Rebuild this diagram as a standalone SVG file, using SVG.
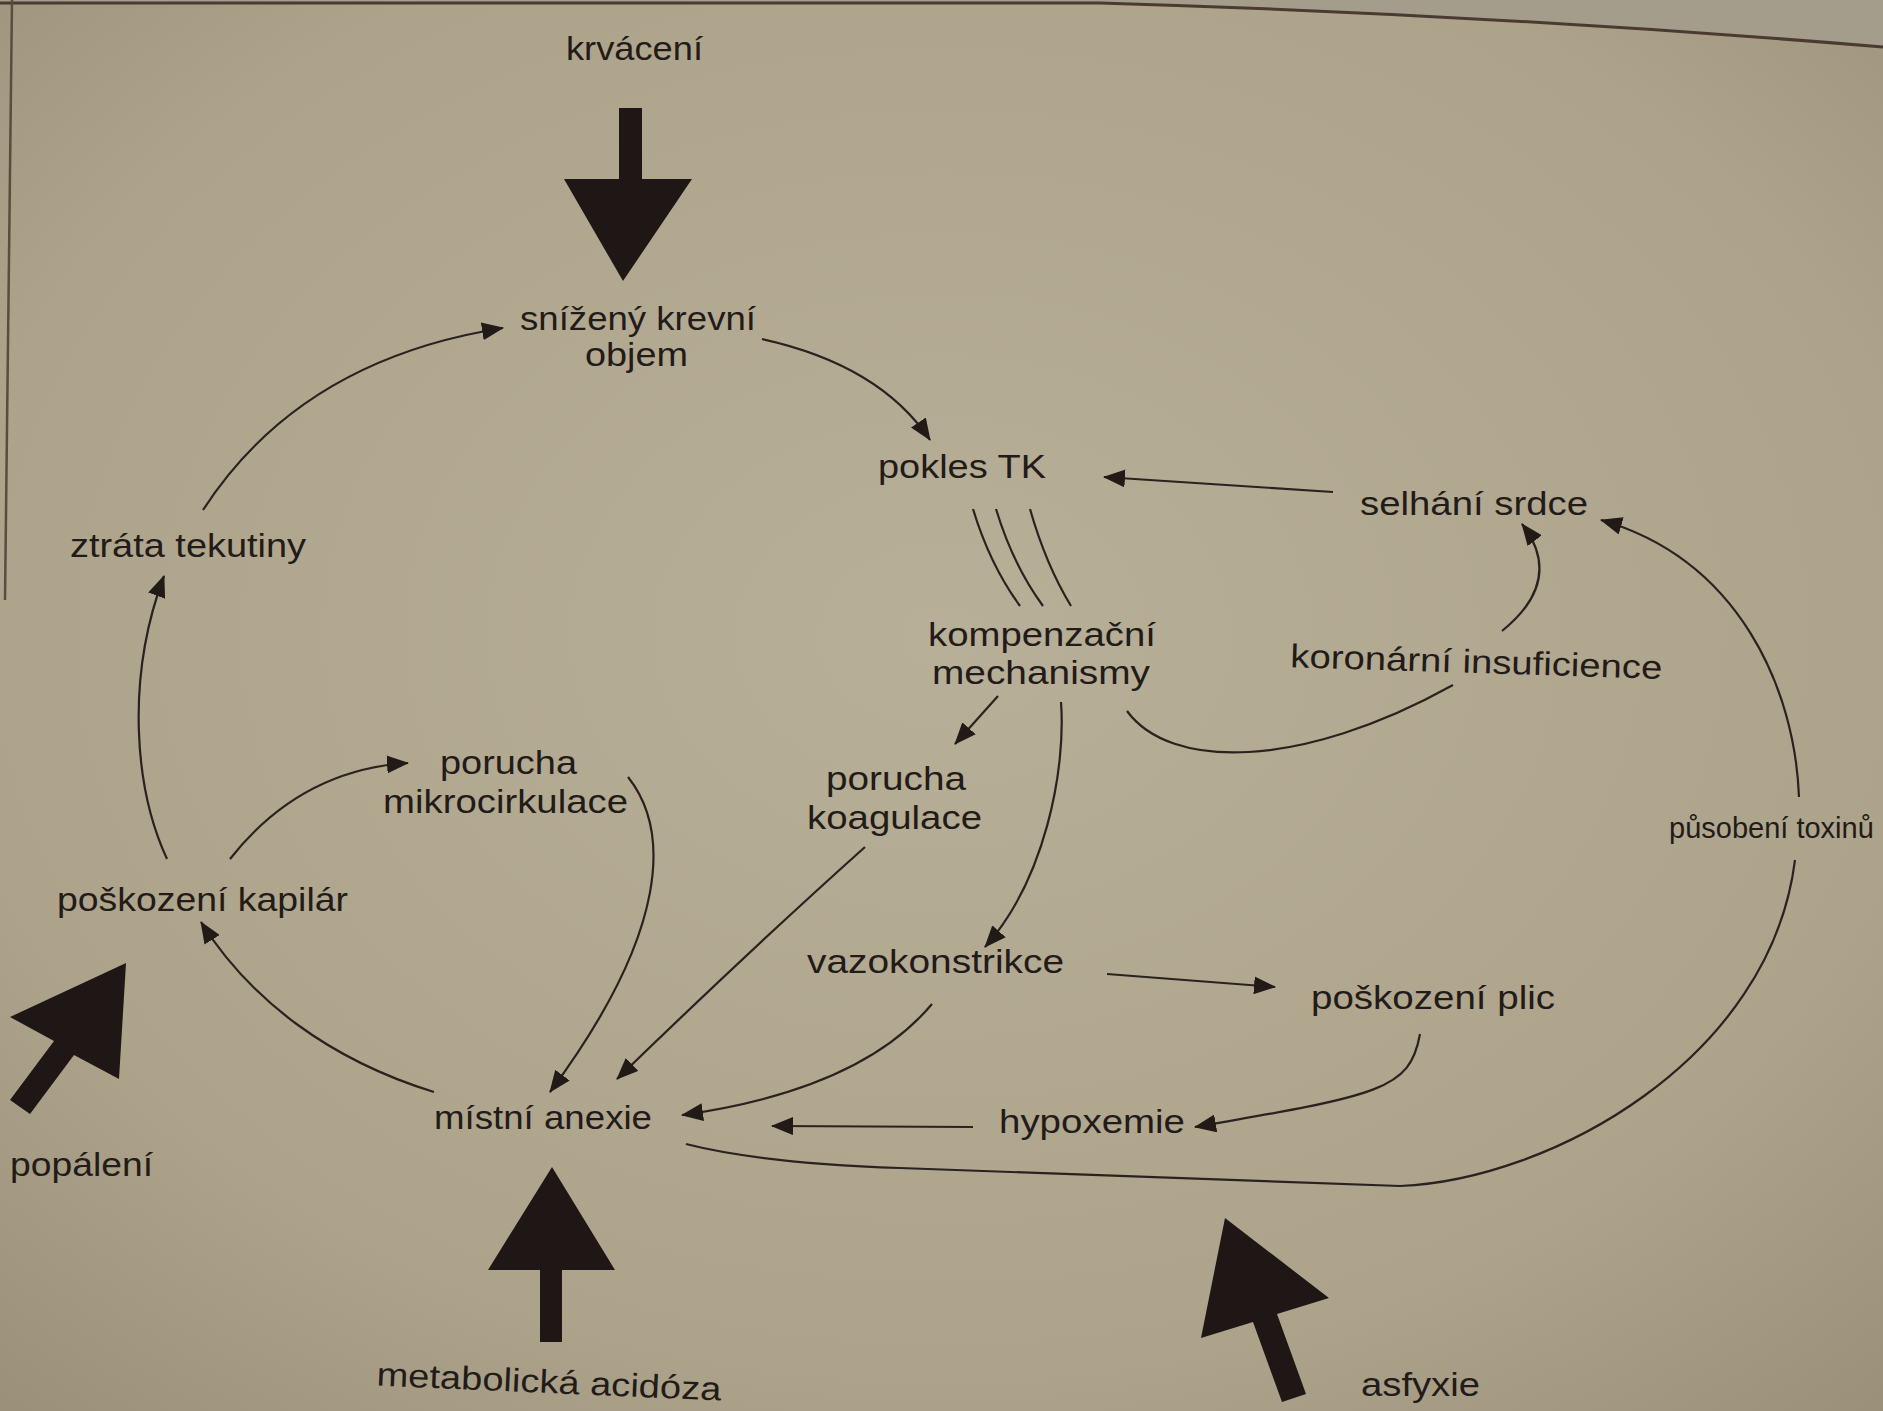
<svg xmlns="http://www.w3.org/2000/svg" width="1883" height="1411" viewBox="0 0 1883 1411">
<defs>
<radialGradient id="bg" cx="0.5" cy="0.45" r="0.75">
<stop offset="0" stop-color="#b8af98"/>
<stop offset="0.7" stop-color="#ada38b"/>
<stop offset="1" stop-color="#9a907a"/>
</radialGradient>
<marker id="ah" markerWidth="22" markerHeight="18" refX="21" refY="9" orient="auto" markerUnits="userSpaceOnUse">
<path d="M0,0 L22,9 L0,18 z" fill="#211a17"/>
</marker>
<style>
.t{font-family:"Liberation Sans",Arial,sans-serif;font-size:33px;fill:#221b18}
.s{font-size:29px}
.c{fill:none;stroke:#2a221e;stroke-width:2.2}
.a{marker-end:url(#ah)}
.big{fill:#1e1715}
</style>
</defs>
<rect width="1883" height="1411" fill="url(#bg)"/>
<path d="M0,0 L1883,0 L1883,47 Q1500,15 1100,3 L0,3 z" fill="#a59d8c"/>
<path d="M0,3 L1100,3 Q1500,15 1883,47" fill="none" stroke="#4a3a30" stroke-width="3"/>
<path d="M12,0 L5,600" fill="none" stroke="#5a4c40" stroke-width="2.5"/>

<g id="connectors">
<path class="c a" d="M203,510 Q300,360 503,328"/>
<path class="c a" d="M762,339 Q880,365 930,440"/>
<path class="c a" d="M1333,492 L1104,477"/>
<path class="c" d="M973,509 Q990,565 1020,606"/>
<path class="c" d="M996,509 Q1013,565 1043,606"/>
<path class="c" d="M1030,509 Q1046,565 1071,606"/>
<path class="c a" d="M1502,631 Q1565,580 1522,524"/>
<path class="c a" d="M1799,797 C1795,690 1740,560 1601,520"/>
<path class="c" d="M686,1144 Q760,1163 900,1168 L1400,1186 C1550,1180 1770,1060 1795,860"/>
<path class="c" d="M1127,711 C1170,770 1300,770 1453,685"/>
<path class="c a" d="M998,696 L955,744"/>
<path class="c a" d="M1061,702 C1066,770 1045,880 985,947"/>
<path class="c a" d="M865,847 Q750,950 617,1079"/>
<path class="c a" d="M628,777 C670,830 670,930 550,1092"/>
<path class="c a" d="M434,1092 C330,1060 250,1000 201,922"/>
<path class="c a" d="M230,859 Q300,770 408,763"/>
<path class="c a" d="M167,859 C135,790 125,680 164,576"/>
<path class="c a" d="M1107,974 L1275,987"/>
<path class="c a" d="M932,1004 Q860,1090 682,1115"/>
<path class="c a" d="M973,1127 L772,1126"/>
<path class="c a" d="M1420,1034 C1410,1090 1380,1095 1195,1127"/>
</g>

<g id="krvaceni">
<polygon class="big" points="619,108 642,108 642,179 692,179 623,281 564,179 619,179"/>
<text class="t" x="566" y="60" textLength="137" lengthAdjust="spacingAndGlyphs">krvácení</text>
</g>
<g id="snizeny-krevni-objem">
<text class="t" x="520" y="330" textLength="236" lengthAdjust="spacingAndGlyphs">snížený krevní</text>
<text class="t" x="585" y="366" textLength="103" lengthAdjust="spacingAndGlyphs">objem</text>
</g>
<g id="pokles-tk">
<text class="t" x="878" y="478" textLength="168" lengthAdjust="spacingAndGlyphs">pokles TK</text>
</g>
<g id="selhani-srdce">
<text class="t" x="1360" y="515" textLength="228" lengthAdjust="spacingAndGlyphs">selhání srdce</text>
</g>
<g id="ztrata-tekutiny">
<text class="t" x="70" y="557" textLength="236" lengthAdjust="spacingAndGlyphs">ztráta tekutiny</text>
</g>
<g id="kompenzacni-mechanismy">
<text class="t" x="928" y="646" textLength="228" lengthAdjust="spacingAndGlyphs">kompenzační</text>
<text class="t" x="932" y="684" textLength="218" lengthAdjust="spacingAndGlyphs">mechanismy</text>
</g>
<g id="koronarni-insuficience">
<text class="t" x="1290" y="673" textLength="372" lengthAdjust="spacingAndGlyphs" transform="rotate(1.8 1476 673)">koronární insuficience</text>
</g>
<g id="porucha-mikrocirkulace">
<text class="t" x="440" y="774" textLength="137" lengthAdjust="spacingAndGlyphs">porucha</text>
<text class="t" x="383" y="813" textLength="245" lengthAdjust="spacingAndGlyphs">mikrocirkulace</text>
</g>
<g id="porucha-koagulace">
<text class="t" x="826" y="790" textLength="140" lengthAdjust="spacingAndGlyphs">porucha</text>
<text class="t" x="807" y="829" textLength="175" lengthAdjust="spacingAndGlyphs">koagulace</text>
</g>
<g id="pusobeni-toxinu">
<text class="t s" x="1669" y="838">působení toxinů</text>
</g>
<g id="poskozeni-kapilar">
<text class="t" x="57" y="911" textLength="291" lengthAdjust="spacingAndGlyphs">poškození kapilár</text>
</g>
<g id="vazokonstrikce">
<text class="t" x="807" y="973" textLength="257" lengthAdjust="spacingAndGlyphs">vazokonstrikce</text>
</g>
<g id="poskozeni-plic">
<text class="t" x="1311" y="1009" textLength="244" lengthAdjust="spacingAndGlyphs">poškození plic</text>
</g>
<g id="mistni-anexie">
<text class="t" x="434" y="1129" textLength="218" lengthAdjust="spacingAndGlyphs">místní anexie</text>
</g>
<g id="hypoxemie">
<text class="t" x="999" y="1133" textLength="186" lengthAdjust="spacingAndGlyphs">hypoxemie</text>
</g>
<g id="popaleni">
<polygon class="big" points="126,963 119,1079 74,1055 30,1114 10,1100 54,1041 10,1017"/>
<text class="t" x="10" y="1176" textLength="143" lengthAdjust="spacingAndGlyphs">popálení</text>
</g>
<g id="metabolicka-acidoza">
<polygon class="big" points="552,1167 615,1270 562,1270 562,1342 540,1342 540,1270 488,1270"/>
<text class="t" x="376" y="1393" textLength="345" lengthAdjust="spacingAndGlyphs" transform="rotate(2.5 548 1393)">metabolická acidóza</text>
</g>
<g id="asfyxie">
<polygon class="big" points="1225,1218 1329,1298 1277,1314 1306,1394 1282,1402 1253,1322 1201,1338"/>
<text class="t" x="1361" y="1396" textLength="119" lengthAdjust="spacingAndGlyphs">asfyxie</text>
</g>
</svg>
